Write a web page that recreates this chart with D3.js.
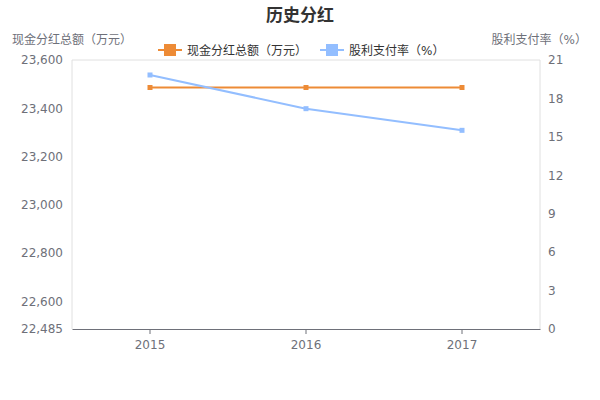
<!DOCTYPE html>
<html><head><meta charset="utf-8">
<script src="https://cdn.jsdelivr.net/npm/d3@7"></script>
<style>body{margin:0;background:#fff}svg{display:block;font-family:"DejaVu Sans","Noto Sans CJK SC",sans-serif}</style>
</head><body>
<svg id="c" width="600" height="400"></svg>
<script>
const years = ["2015", "2016", "2017"];
const dividendTotal = [23486, 23486, 23486];
const payoutRatio = [19.83, 17.2, 15.51];
const leftTicks = [22485, 22600, 22800, 23000, 23200, 23400, 23600];
const rightTicks = [0, 3, 6, 9, 12, 15, 18, 21];
const seriesNames = ["现金分红总额（万元）", "股利支付率（%）"];
const colors = ["#ED8B36", "#93BEFF"];

const svg = d3.select("#c");
const L = 72, R = 540, T = 60, B = 329;
const x = d3.scaleBand().domain(years).range([L, R]);
const yL = d3.scaleLinear().domain([22485, 23600]).range([B, T]);
const yR = d3.scaleLinear().domain([0, 21]).range([B, T]);
const fmt = d3.format(",");
const txt = "#6E7079";

svg.append("text").attr("x", 300).attr("y", 21).attr("text-anchor", "middle")
  .attr("font-size", 17).attr("font-weight", "bold").attr("fill", "#333").text("历史分红");

svg.append("text").attr("x", 12).attr("y", 44).attr("font-size", 12).attr("fill", txt).text("现金分红总额（万元）");
svg.append("text").attr("x", 587).attr("y", 44).attr("text-anchor", "end").attr("font-size", 12).attr("fill", txt).text("股利支付率（%）");

// plot frame
svg.append("path").attr("d", `M${L},${B}V${T}H${R}V${B}`).attr("fill", "none").attr("stroke", "#E0E0E0").attr("stroke-width", 1);

function style(g) {
  g.attr("font-family", null).attr("font-size", null);
  g.selectAll("text").attr("fill", txt).attr("font-size", 12);
}

// left axis
const gL = svg.append("g").attr("transform", `translate(${L},0)`)
  .call(d3.axisLeft(yL).tickValues(leftTicks).tickFormat(fmt).tickSize(0).tickPadding(9));
gL.select(".domain").remove();
style(gL);

// right axis
const gR = svg.append("g").attr("transform", `translate(${R},0)`)
  .call(d3.axisRight(yR).tickValues(rightTicks).tickSize(0).tickPadding(8));
gR.select(".domain").remove();
style(gR);

// bottom axis
const gB = svg.append("g").attr("transform", `translate(0,${B})`)
  .call(d3.axisBottom(x).tickSize(5).tickSizeOuter(0).tickPadding(6));
gB.select(".domain").attr("stroke", txt);
gB.selectAll("line").attr("stroke", txt);
style(gB);

const cx = d => x(d) + x.bandwidth() / 2;
const series = [
  {vals: dividendTotal, y: yL},
  {vals: payoutRatio, y: yR}
];
series.forEach((s, i) => {
  const line = d3.line().x((d, j) => cx(years[j])).y(d => s.y(d));
  svg.append("path").datum(s.vals).attr("d", line).attr("fill", "none")
    .attr("stroke", colors[i]).attr("stroke-width", 2);
  svg.selectAll(null).data(s.vals).enter().append("rect")
    .attr("x", (d, j) => cx(years[j]) - 2.5).attr("y", d => s.y(d) - 2.5)
    .attr("width", 5).attr("height", 5).attr("fill", colors[i]);
});

// legend
const legX = [158, 320];
seriesNames.forEach((n, i) => {
  const g = svg.append("g").attr("transform", `translate(${legX[i]},50)`);
  g.append("line").attr("x1", 0).attr("x2", 24).attr("y1", 0).attr("y2", 0).attr("stroke", colors[i]).attr("stroke-width", 2);
  g.append("rect").attr("x", 6).attr("y", -6).attr("width", 12).attr("height", 12).attr("fill", colors[i]);
  g.append("text").attr("x", 29).attr("y", 4.5).attr("font-size", 12).attr("fill", "#333").text(n);
});
</script>
</body></html>
